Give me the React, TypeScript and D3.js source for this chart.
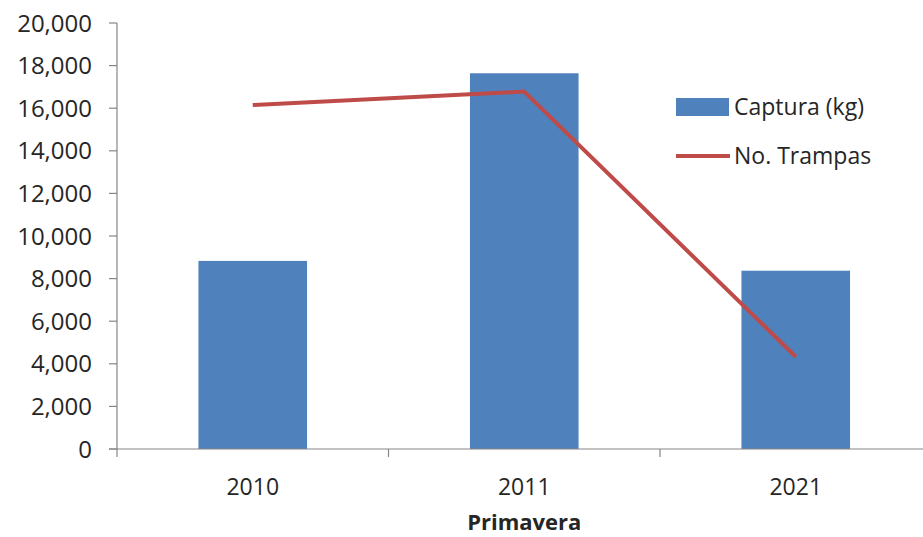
import React from "react";
import * as d3 from "d3";

const categories = ["2010", "2011", "2021"];
const captura = [8830, 17640, 8370];
const trampas = [16150, 16780, 4330];
const yTicks = [0, 2000, 4000, 6000, 8000, 10000, 12000, 14000, 16000, 18000, 20000];
const legendLabels = ["Captura (kg)", "No. Trampas"];
const xTitle = "Primavera";

const W = 923;
const H = 537;
const FONT = "'Open Sans', 'Liberation Sans', sans-serif";
const AXIS = "#868686";
const BAR = "#4F81BD";
const LINE = "#BE4B48";
const TEXT = "#262626";

export default function App() {
  const x = d3.scaleBand<string>().domain(categories).range([117, 931.5]).padding(0);
  const y = d3.scaleLinear().domain([0, 20000]).range([449, 23]);
  const bw = x.bandwidth();
  const barW = bw / 2.5;
  const fmt = d3.format(",");
  const line = d3
    .line<number>()
    .x((_, i) => (x(categories[i]) as number) + bw / 2)
    .y((d) => y(d));

  const boundaries = categories.map((c) => x(c) as number).concat([(x(categories[categories.length - 1]) as number) + bw]);

  return (
    <svg width={W} height={H} style={{ position: "absolute", left: 0, top: 0, background: "#fff" }} fontFamily={FONT}>
      <rect x={0} y={0} width={W} height={H} fill="#fff" />
      {categories.map((c, i) => (
        <rect
          key={c}
          x={(x(c) as number) + (bw - barW) / 2}
          y={y(captura[i])}
          width={barW}
          height={y(0) - y(captura[i])}
          fill={BAR}
        />
      ))}
      <line x1={117} x2={117} y1={y(20000)} y2={y(0)} stroke={AXIS} strokeWidth={1.2} />
      {yTicks.map((t) => (
        <g key={t}>
          <line x1={109} x2={117} y1={y(t)} y2={y(t)} stroke={AXIS} strokeWidth={1.2} />
          <text x={92} y={y(t)} dy="0.36em" textAnchor="end" fontSize={24} fill={TEXT}>
            {fmt(t)}
          </text>
        </g>
      ))}
      <line x1={109} x2={W} y1={y(0)} y2={y(0)} stroke={AXIS} strokeWidth={1.2} />
      {boundaries.map((b, i) => (
        <line key={i} x1={b} x2={b} y1={y(0)} y2={y(0) + 8} stroke={AXIS} strokeWidth={1.2} />
      ))}
      {categories.map((c) => (
        <text key={c} x={(x(c) as number) + bw / 2} y={487} dy="0.36em" textAnchor="middle" fontSize={23} fill={TEXT}>
          {c}
        </text>
      ))}
      <text x={(x(categories[1]) as number) + bw / 2} y={522} dy="0.36em" textAnchor="middle" fontSize={22} fontWeight="bold" fill={TEXT}>
        {xTitle}
      </text>
      <path d={line(trampas) as string} fill="none" stroke={LINE} strokeWidth={4} strokeLinejoin="round" />
      <rect x={676} y={98} width={53} height={18} fill={BAR} />
      <text x={734} y={107} dy="0.36em" fontSize={23} fill={TEXT}>
        {legendLabels[0]}
      </text>
      <line x1={676} x2={730} y1={156} y2={156} stroke={LINE} strokeWidth={4} />
      <text x={734} y={156} dy="0.36em" fontSize={23} fill={TEXT}>
        {legendLabels[1]}
      </text>
    </svg>
  );
}
